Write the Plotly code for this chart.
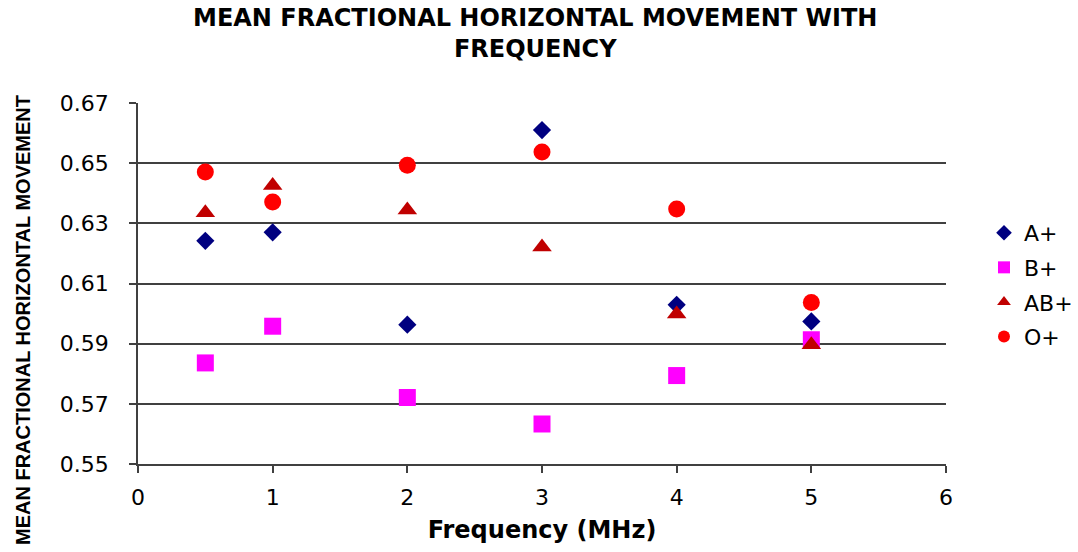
import plotly.graph_objects as go

# Frequency (MHz) at which each blood group was measured
frequency = [0.5, 1, 2, 3, 4, 5]

# Mean fractional horizontal movement per blood group
a_pos = [0.6242, 0.6270, 0.5963, 0.6610, 0.6029, 0.5974]
b_pos = [0.5836, 0.5958, 0.5721, 0.5633, 0.5794, 0.5913]
ab_pos = [0.6335, 0.6426, 0.6344, 0.6221, 0.5999, 0.5896]
o_pos = [0.6471, 0.6371, 0.6493, 0.6537, 0.6348, 0.6037]

y_ticks = [0.55, 0.57, 0.59, 0.61, 0.63, 0.65, 0.67]
x_ticks = [0, 1, 2, 3, 4, 5, 6]

series = [
    ("A+", a_pos, "diamond", "#000080", 14),
    ("B+", b_pos, "square", "#FF00FF", 17),
    ("AB+", ab_pos, "triangle-up", "#C00000", 17),
    ("O+", o_pos, "circle", "#FF0000", 17),
]

fig = go.Figure()
for name, vals, sym, col, sz in series:
    fig.add_trace(go.Scatter(
        x=frequency, y=vals, name=name, mode="markers", legendgroup=name,
        marker=dict(symbol=sym, color=col, size=sz, line=dict(width=0)),
    ))

wide = "DejaVu Sans, Verdana, sans-serif"
narrow = "Liberation Sans, Arial, sans-serif"

fig.update_layout(
    width=1078, height=552,
    margin=dict(l=138, r=132, t=103, b=88, autoexpand=False),
    paper_bgcolor="white", plot_bgcolor="white",
    font=dict(family=wide, color="black", size=20),
    showlegend=True,
    legend=dict(
        x=(984 - 138) / 808, xanchor="left", y=0.496, yanchor="middle",
        font=dict(size=22, family=wide, color="black"),
        itemsizing="constant", tracegroupgap=3,
        bgcolor="rgba(0,0,0,0)",
    ),
    annotations=[
        dict(
            text="<b>MEAN FRACTIONAL HORIZONTAL MOVEMENT WITH<br>FREQUENCY</b>",
            xref="paper", yref="paper", x=(535 - 138) / 808, y=1.0 + (103 - 33) / 361,
            xanchor="center", yanchor="middle", showarrow=False,
            font=dict(family=wide, size=24, color="black"),
        ),
        dict(
            text="<b>MEAN FRACTIONAL HORIZONTAL MOVEMENT</b>",
            xref="paper", yref="paper", x=(23 - 138) / 808, y=(464 - 320) / 361,
            xanchor="center", yanchor="middle", textangle=-90, showarrow=False,
            font=dict(family=narrow, size=20, color="black"),
        ),
    ],
)

fig.update_xaxes(
    range=[0, 6], tickvals=x_ticks, ticktext=[str(v) for v in x_ticks],
    showgrid=False, zeroline=False,
    showline=True, linecolor="#404040", linewidth=1.5,
    ticks="outside", ticklen=7, tickcolor="#404040", tickwidth=1.5,
    tickfont=dict(size=22, family=wide), ticklabelstandoff=6,
    title=dict(text="<b>Frequency (MHz)</b>", standoff=12,
               font=dict(size=24, family=wide)),
)

fig.update_yaxes(
    range=[0.55, 0.67], tickvals=y_ticks,
    ticktext=[f"{v:.2f}" for v in y_ticks],
    showgrid=True, gridcolor="#404040", gridwidth=1.5,
    zeroline=False,
    showline=True, linecolor="#404040", linewidth=1.5,
    ticks="outside", ticklen=7, tickcolor="#404040", tickwidth=1.5,
    tickfont=dict(size=22, family=wide), ticklabelstandoff=16,
)

fig.write_html("out.html")
